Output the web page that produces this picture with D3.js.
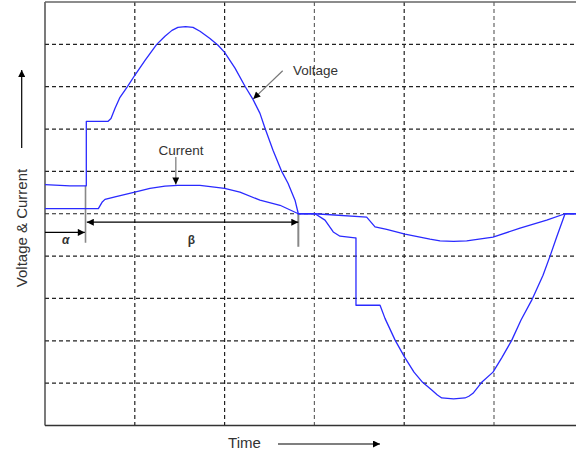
<!DOCTYPE html>
<html>
<head>
<meta charset="utf-8">
<script src="https://cdn.jsdelivr.net/npm/d3@7"></script>
<style>
html,body{margin:0;padding:0;background:#fff;}
svg{display:block;}
text{font-family:"Liberation Sans",Arial,sans-serif;}
</style>
</head>
<body>
<svg id="chart" width="576" height="453"></svg>
<script>
// Time in grid divisions, amplitude in grid divisions
const voltageT = [0,0.278,0.46,0.46,0.70,0.735,0.78,0.835,0.92,1.0,1.114,1.244,1.336,1.414,1.48,1.565,1.648,1.726,1.837,1.927,2.0,2.116,2.227,2.316,2.394,2.45,2.539,2.636,2.706,2.784,2.821,3.007,3.118,3.21,3.285,3.452,3.463,3.463,3.731,3.786,3.90,4.006,4.109,4.205,4.31,4.37,4.418,4.55,4.677,4.72,4.766,4.863,4.989,5.089,5.197,5.301,5.42,5.546,5.624,5.698,5.791,6.0];
const voltageV = [0.69,0.66,0.66,2.18,2.18,2.25,2.49,2.75,3.01,3.27,3.62,4.00,4.19,4.33,4.40,4.42,4.40,4.31,4.14,3.98,3.81,3.44,3.01,2.70,2.37,2.02,1.50,1.00,0.72,0.32,0,0,-0.15,-0.43,-0.53,-0.57,-0.57,-2.16,-2.16,-2.47,-2.99,-3.39,-3.74,-3.98,-4.17,-4.28,-4.35,-4.37,-4.35,-4.31,-4.24,-3.98,-3.74,-3.39,-2.99,-2.51,-2.04,-1.45,-1.00,-0.55,0,0];
const currentT = [0,0.594,0.635,0.668,0.78,1.0,1.169,1.336,1.48,1.726,2.0,2.171,2.394,2.617,2.821,3.007,3.582,3.675,3.805,4.009,4.287,4.399,4.55,4.696,4.989,5.29,5.587,5.791,6.0];
const currentV = [0.12,0.12,0.27,0.34,0.40,0.51,0.60,0.65,0.67,0.67,0.60,0.51,0.32,0.20,0,0,-0.08,-0.31,-0.37,-0.48,-0.60,-0.64,-0.65,-0.64,-0.55,-0.34,-0.15,0,0];
const xGrid = [1,2,3,4,5];
const yGrid = [-4,-3,-2,-1,0,1,2,3,4];
const alphaT = 0.46, betaT = 2.821;

const svg = d3.select("#chart");
const x = d3.scaleLinear().domain([0,6]).range([45,583.8]);
const y = d3.scaleLinear().domain([-5,5]).range([425.5,2]);

const defs = svg.append("defs");
defs.append("marker").attr("id","ah").attr("viewBox","0 0 10 10")
  .attr("refX",10).attr("refY",5).attr("markerWidth",9).attr("markerHeight",7)
  .attr("markerUnits","userSpaceOnUse").attr("orient","auto-start-reverse")
  .append("path").attr("d","M0,0 L10,5 L0,10 Z").attr("fill","#000");

// grid
const grid = svg.append("g");
grid.selectAll("line.v").data(xGrid).join("line")
  .attr("x1",d=>x(d)).attr("x2",d=>x(d)).attr("y1",y(5)).attr("y2",y(-5))
  .attr("stroke",d=> (d===3||d===5)?"#666":"#222").attr("stroke-width",1.2).attr("stroke-dasharray","4,3");
grid.selectAll("line.h").data(yGrid).join("line")
  .attr("x1",x(0)).attr("x2",576).attr("y1",d=>y(d)).attr("y2",d=>y(d))
  .attr("stroke","#222").attr("stroke-width",1.2).attr("stroke-dasharray","4,3");

// frame
svg.append("line").attr("x1",x(0)).attr("x2",x(0)).attr("y1",y(5)).attr("y2",y(-5)).attr("stroke","#333").attr("stroke-width",1.3);
svg.append("line").attr("x1",x(0)).attr("x2",576).attr("y1",y(5)).attr("y2",y(5)).attr("stroke","#666").attr("stroke-width",1.5);
svg.append("line").attr("x1",x(0)).attr("x2",576).attr("y1",y(-5)).attr("y2",y(-5)).attr("stroke","#333").attr("stroke-width",1.3);

// alpha / beta markers
svg.append("line").attr("x1",x(alphaT)-0.8).attr("x2",x(alphaT)-0.8).attr("y1",y(0.66)).attr("y2",y(-0.685))
  .attr("stroke","#888").attr("stroke-width",1.6);
svg.append("line").attr("x1",x(betaT)).attr("x2",x(betaT)).attr("y1",y(0)).attr("y2",y(-0.78))
  .attr("stroke","#888").attr("stroke-width",2);
svg.append("line").attr("x1",x(0)).attr("x2",x(alphaT)-1.5).attr("y1",y(-0.44)).attr("y2",y(-0.44))
  .attr("stroke","#000").attr("stroke-width",1.2).attr("marker-end","url(#ah)");
svg.append("line").attr("x1",x(alphaT)+0.5).attr("x2",x(betaT)).attr("y1",y(-0.20)).attr("y2",y(-0.20))
  .attr("stroke","#000").attr("stroke-width",1.2).attr("marker-start","url(#ah)").attr("marker-end","url(#ah)");
svg.append("text").attr("x",x(0.23)).attr("y",y(-0.72)).attr("text-anchor","middle")
  .attr("font-family","Liberation Serif,serif").attr("font-weight","bold").attr("font-style","italic").attr("font-size",12).attr("fill","#333").text("α");
svg.append("text").attr("x",x(1.63)).attr("y",y(-0.72)).attr("text-anchor","middle")
  .attr("font-family","Liberation Serif,serif").attr("font-weight","bold").attr("font-size",12).attr("fill","#333").text("β");

// waveforms
const line = d3.line().x(d=>x(d[0])).y(d=>y(d[1]));
svg.append("path").datum(d3.zip(voltageT,voltageV)).attr("d",line)
  .attr("fill","none").attr("stroke","#2a2aff").attr("stroke-width",1.3).attr("stroke-linejoin","round");
svg.append("path").datum(d3.zip(currentT,currentV)).attr("d",line)
  .attr("fill","none").attr("stroke","#2a2aff").attr("stroke-width",1.3).attr("stroke-linejoin","round");

// callouts
svg.append("line").attr("x1",282.7).attr("y1",70.7).attr("x2",x(2.316)+0.3).attr("y2",y(2.70)-0.5)
  .attr("stroke","#777").attr("stroke-width",1.2).attr("marker-end","url(#ah)");
svg.append("text").attr("x",293).attr("y",75).attr("font-size",13.5).attr("fill","#333").text("Voltage");
svg.append("line").attr("x1",x(1.457)).attr("y1",157).attr("x2",x(1.457)).attr("y2",y(0.67)-1)
  .attr("stroke","#777").attr("stroke-width",1.2).attr("marker-end","url(#ah)");
svg.append("text").attr("x",181).attr("y",155).attr("text-anchor","middle").attr("font-size",13.5).attr("fill","#333").text("Current");

// axis titles
svg.append("text").attr("transform","translate(27,228) rotate(-90)").attr("text-anchor","middle")
  .attr("font-size",15).attr("fill","#333").text("Voltage & Current");
svg.append("line").attr("x1",21.7).attr("x2",21.7).attr("y1",148).attr("y2",70)
  .attr("stroke","#000").attr("stroke-width",1.2).attr("marker-end","url(#ah)");
svg.append("text").attr("x",244.5).attr("y",448).attr("text-anchor","middle")
  .attr("font-size",15).attr("fill","#333").text("Time");
svg.append("line").attr("x1",278).attr("x2",380).attr("y1",444).attr("y2",444)
  .attr("stroke","#000").attr("stroke-width",1.2).attr("marker-end","url(#ah)");
</script>
</body>
</html>
